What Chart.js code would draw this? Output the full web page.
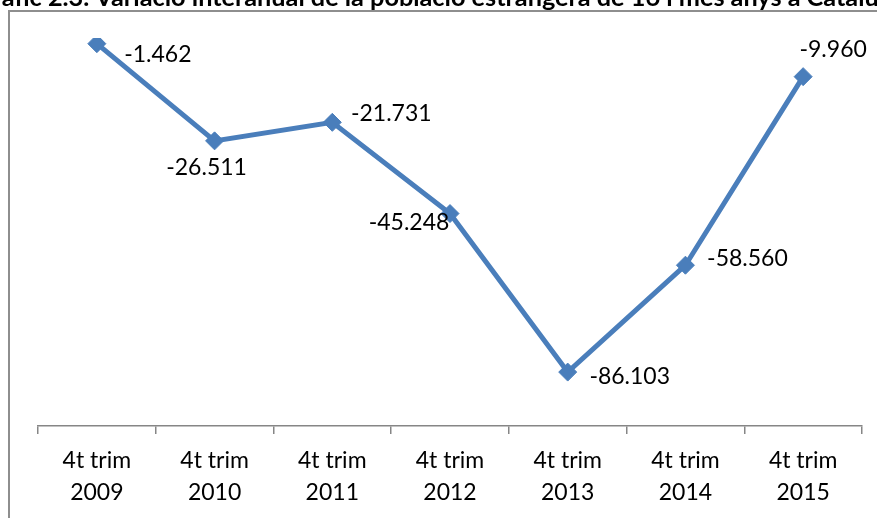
<!DOCTYPE html>
<html>
<head>
<meta charset="utf-8">
<script src="https://cdn.jsdelivr.net/npm/chart.js@4/dist/chart.umd.min.js"></script>
<style>
  html, body { margin: 0; padding: 0; background: #fff; overflow: hidden; }
  #wrap { position: relative; width: 877px; height: 518px; overflow: hidden; }
  #frame { position: absolute; left: 8px; top: 10px; width: 900px; height: 600px; border: 2px solid #8e8e8e; box-sizing: border-box; }
  #chart { position: absolute; left: 0; top: 0; }
</style>
</head>
<body>
<div id="wrap">
  <div id="frame"></div>
  <canvas id="chart" width="877" height="518"></canvas>
</div>
<script>
// Dades del gràfic
const titol = 'Gràfic 2.3. Variació interanual de la població estrangera de 16 i més anys a Catalunya';
const trimestres = ['4t trim', '4t trim', '4t trim', '4t trim', '4t trim', '4t trim', '4t trim'];
const anys = ['2009', '2010', '2011', '2012', '2013', '2014', '2015'];
const variacio = [-1462, -26511, -21731, -45248, -86103, -58560, -9960];

// Desplaçament de cada etiqueta respecte del seu punt (px)
const desplEtiquetes = [[61, 11], [-8, 27], [59, -9], [-41, 9], [62, 4], [62, -7], [30, -27]];

const FONT = 'Lato, "Open Sans", sans-serif';

// Format amb punt com a separador de milers
function formatNum(v) {
    const s = Math.abs(v).toString().replace(/\B(?=(\d{3})+(?!\d))/g, '.');
    return (v < 0 ? '-' : '') + s;
}

// Títol retallat a la part superior, com a l'original
const titolPlugin = {
    id: 'titol',
    beforeDraw(chart) {
        const ctx = chart.ctx;
        ctx.save();
        ctx.font = 'bold 20px ' + FONT;
        const visible = 'àfic 2.3. Variació interanual de la població estrangera de 16 i més anys a Catalu';
        const mida = 20 * 877 / ctx.measureText(visible).width;
        ctx.font = 'bold ' + mida.toFixed(2) + 'px ' + FONT;
        const inici = ctx.measureText('Gr').width;
        ctx.fillStyle = '#000';
        ctx.textAlign = 'left';
        ctx.textBaseline = 'alphabetic';
        ctx.fillText(titol, 2 - inici, 6);
        ctx.restore();
    }
};

// Etiquetes de valor de cada punt
const etiquetesPlugin = {
    id: 'etiquetes',
    afterDatasetsDraw(chart) {
        const ctx = chart.ctx;
        const meta = chart.getDatasetMeta(0);
        ctx.save();
        ctx.font = '23px ' + FONT;
        ctx.fillStyle = '#000';
        ctx.textAlign = 'center';
        ctx.textBaseline = 'middle';
        meta.data.forEach((pt, i) => {
            const d = desplEtiquetes[i];
            ctx.fillText(formatNum(variacio[i]), pt.x + d[0], pt.y + d[1]);
        });
        ctx.restore();
    }
};

new Chart(document.getElementById('chart'), {
    type: 'line',
    data: {
        labels: trimestres.map((t, i) => [t, anys[i]]),
        datasets: [{
            data: variacio,
            borderColor: '#4a7ebb',
            backgroundColor: '#4a7ebb',
            borderWidth: 5,
            pointStyle: 'rectRot',
            pointRadius: 9,
            pointBorderWidth: 1,
            pointBackgroundColor: '#4a7ebb',
            pointBorderColor: '#4a7ebb',
            tension: 0,
            fill: false
        }]
    },
    options: {
        responsive: false,
        animation: false,
        layout: { padding: { left: 38, right: 15, top: 38, bottom: 0 } },
        plugins: {
            legend: { display: false },
            tooltip: { enabled: false }
        },
        scales: {
            x: {
                offset: true,
                grid: {
                    offset: true,
                    drawOnChartArea: false,
                    drawTicks: true,
                    tickLength: 8,
                    color: '#868686',
                    lineWidth: 1.5
                },
                border: { color: '#868686', width: 1.5 },
                ticks: {
                    color: '#000',
                    font: { family: FONT, size: 23, lineHeight: 1.38 },
                    padding: 11,
                    maxRotation: 0,
                    autoSkip: false
                },
                afterFit(scale) {
                    scale.height = 92;
                }
            },
            y: {
                display: false,
                min: -100000,
                max: 0
            }
        }
    },
    plugins: [titolPlugin, etiquetesPlugin]
});
</script>
</body>
</html>
